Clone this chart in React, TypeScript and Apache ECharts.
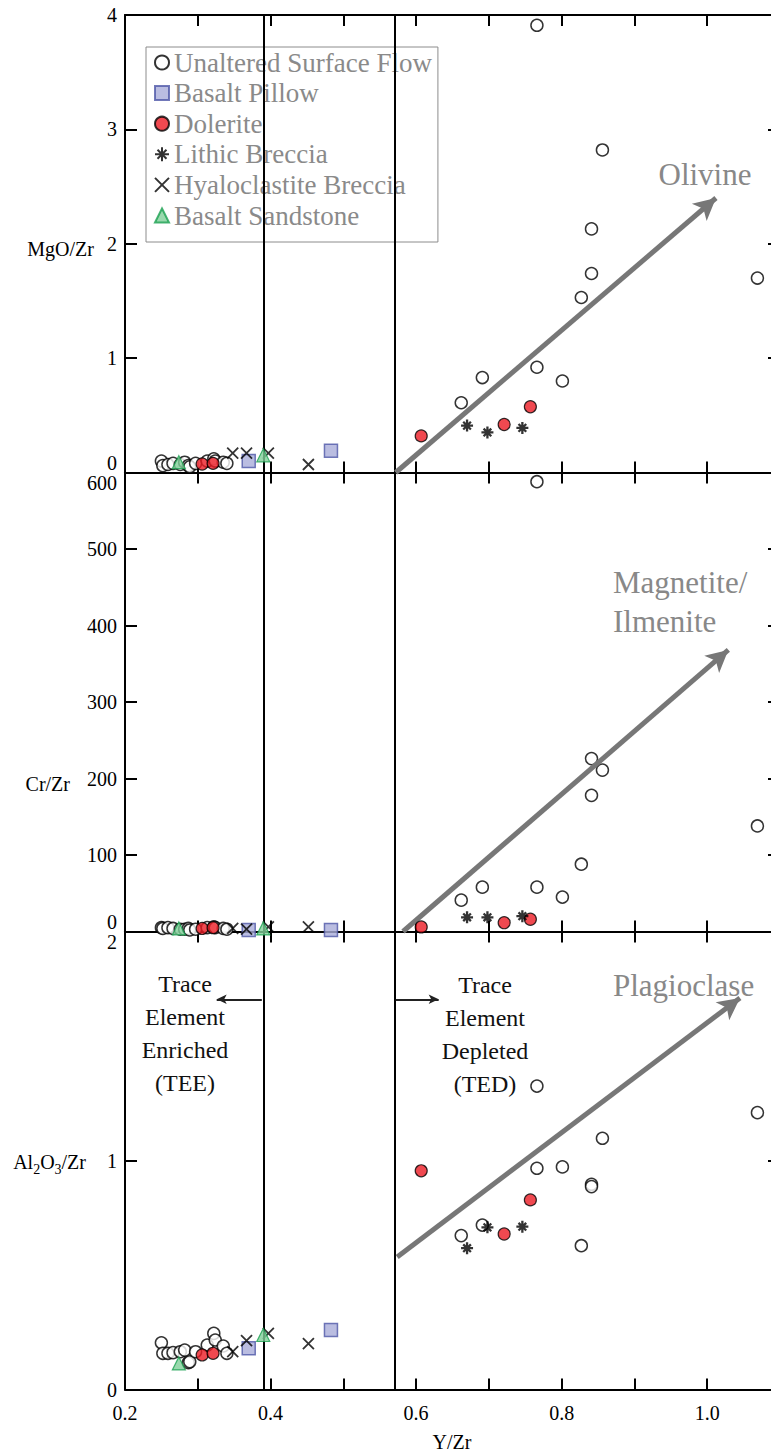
import React, { useEffect, useRef } from 'react';
import * as echarts from 'echarts';

const SERIF = '"Liberation Serif", "DejaVu Serif", serif';

// ---- axes ----
const X_MIN = 0.2;
const X_MAX = 1.1;
const X_INTERVAL = 0.1;
const Y_MAX = [4, 600, 2];
const Y_INTERVAL = [1, 100, 1];

// ---- boundaries (Y/Zr) ----
const TEE_BOUNDARY = 0.388;
const TED_BOUNDARY = 0.572;

// ---- Unaltered Surface Flow ----
const UNALTERED_X = [0.250, 0.252, 0.259, 0.266, 0.276, 0.282, 0.287, 0.289, 0.297, 0.313, 0.322, 0.324, 0.335, 0.340,
  0.766, 0.856, 0.841, 0.841, 0.827, 1.069, 0.766, 0.801, 0.691, 0.662];
const UNALTERED_MGO = [0.10, 0.06, 0.07, 0.08, 0.07, 0.09, 0.06, 0.05, 0.08, 0.10, 0.12, 0.10, 0.09, 0.08,
  3.91, 2.82, 2.13, 1.74, 1.53, 1.70, 0.92, 0.80, 0.83, 0.61];
const UNALTERED_CR = [5, 4, 5, 4, 3, 3, 4, 2, 3, 5, 6, 5, 4, 3,
  588, 211, 226, 178, 88, 138, 58, 45, 58, 41];
const UNALTERED_AL = [0.204, 0.158, 0.158, 0.161, 0.165, 0.172, 0.117, 0.121, 0.165, 0.194, 0.245, 0.216, 0.190, 0.158,
  1.325, 1.097, 0.896, 0.886, 0.628, 1.209, 0.966, 0.972, 0.718, 0.672];

// ---- Basalt Pillow ----
const PILLOW_X = [0.370, 0.483];
const PILLOW_MGO = [0.10, 0.19];
const PILLOW_CR = [2, 2];
const PILLOW_AL = [0.18, 0.26];

// ---- Dolerite ----
const DOLERITE_X = [0.306, 0.321, 0.607, 0.721, 0.757];
const DOLERITE_MGO = [0.074, 0.08, 0.32, 0.42, 0.575];
const DOLERITE_CR = [4, 5, 6, 11.5, 16];
const DOLERITE_AL = [0.151, 0.158, 0.955, 0.679, 0.828];

// ---- Lithic Breccia ----
const LITHIC_X = [0.670, 0.698, 0.746];
const LITHIC_MGO = [0.41, 0.35, 0.39];
const LITHIC_CR = [18.5, 18.5, 20];
const LITHIC_AL = [0.617, 0.708, 0.711];

// ---- Hyaloclastite Breccia ----
const HYALO_X = [0.348, 0.367, 0.397, 0.452];
const HYALO_MGO = [0.17, 0.17, 0.17, 0.07];
const HYALO_CR = [4, 3, 6, 6];
const HYALO_AL = [0.165, 0.213, 0.245, 0.20];

// ---- Basalt Sandstone ----
const SANDSTONE_X = [0.274, 0.390];
const SANDSTONE_MGO = [0.09, 0.15];
const SANDSTONE_CR = [4, 4];
const SANDSTONE_AL = [0.114, 0.238];

// ---- vector arrows [start, tip] ----
const OLIVINE_ARROW = [[0.572, 0], [1.012, 2.40]];
const MAGNETITE_ARROW = [[0.582, 0], [1.029, 368]];
const PLAGIOCLASE_ARROW = [[0.574, 0.579], [1.045, 1.71]];
const TEE_ARROW = [[0.388, 1.704], [0.326, 1.704]];
const TED_ARROW = [[0.572, 1.704], [0.631, 1.704]];

const NAMES = ['Unaltered Surface Flow', 'Basalt Pillow', 'Dolerite', 'Lithic Breccia', 'Hyaloclastite Breccia', 'Basalt Sandstone'];

const ASTERISK = 'path://M5 0L5 10M0 5L10 5M1.8 1.8L8.2 8.2M8.2 1.8L1.8 8.2';
const CROSS = 'path://M0 0L10 10M10 0L0 10';

const STYLES: any[] = [
  { symbol: 'circle', symbolSize: 12, itemStyle: { color: '#ffffff', borderColor: '#000', borderWidth: 1.5 } },
  { symbol: 'rect', symbolSize: 13, itemStyle: { color: '#a9acd9', borderColor: '#4f58a8', borderWidth: 1.5 } },
  { symbol: 'circle', symbolSize: 12, itemStyle: { color: '#ec1c24', borderColor: '#000', borderWidth: 1.2 } },
  { symbol: ASTERISK, symbolSize: 12, itemStyle: { color: '#000', borderColor: '#000', borderWidth: 2.3 } },
  { symbol: CROSS, symbolSize: 11, itemStyle: { color: '#000', borderColor: '#000', borderWidth: 1.8 } },
  { symbol: 'triangle', symbolSize: 13, itemStyle: { color: '#7fcf98', borderColor: '#1aa050', borderWidth: 1.2 } },
];

const GRIDS = [
  { left: 125, top: 15, width: 655, height: 457.5 },
  { left: 125, top: 472.5, width: 655, height: 459 },
  { left: 125, top: 931.5, width: 655, height: 458 },
];

const arrowLine = (pair: number[][], color: string, width: number, size: number[]) => [
  { coord: pair[0], symbol: 'none', lineStyle: { color, width, type: 'solid' } },
  { coord: pair[1], symbol: 'arrow', symbolSize: size, itemStyle: { color } },
];

export default function App() {
  const ref = useRef<HTMLDivElement>(null);
  useEffect(() => {
    if (!ref.current) return;
    const chart = echarts.init(ref.current, null, { renderer: 'svg' });

    const xAxes: any[] = [];
    const yAxes: any[] = [];
    GRIDS.forEach((_, gi) => {
      ['bottom', 'top'].forEach((pos) => {
        xAxes.push({
          type: 'value', gridIndex: gi, position: pos, min: X_MIN, max: X_MAX, interval: X_INTERVAL,
          axisLine: { show: true, onZero: false, lineStyle: { color: '#000', width: 2 } },
          axisTick: { show: true, inside: true, length: 11, lineStyle: { color: '#000', width: 2 } },
          splitLine: { show: false },
          axisLabel: gi === 2 && pos === 'bottom' ? {
            show: true, margin: 13, fontFamily: SERIF, fontSize: 20, color: '#000',
            formatter: (v: number) => { const t = Math.round(v * 10); return t % 2 === 0 && t <= 10 ? (t / 10).toFixed(1) : ''; },
          } : { show: false },
        });
      });
      ['left', 'right'].forEach((pos) => {
        yAxes.push({
          type: 'value', gridIndex: gi, position: pos, min: 0, max: Y_MAX[gi], interval: Y_INTERVAL[gi],
          axisLine: { show: true, onZero: false, lineStyle: { color: '#000', width: 2 } },
          axisTick: { show: true, inside: true, length: 12, lineStyle: { color: '#000', width: 2 } },
          splitLine: { show: false },
          axisLabel: pos === 'left' ? {
            show: true, margin: 8, fontFamily: SERIF, fontSize: 20, color: '#000',
            verticalAlignMinLabel: gi === 2 ? 'middle' : 'bottom',
            verticalAlignMaxLabel: gi === 0 ? 'middle' : 'top',
          } : { show: false },
        });
      });
    });

    const panelData = [
      [[UNALTERED_X, UNALTERED_MGO], [PILLOW_X, PILLOW_MGO], [DOLERITE_X, DOLERITE_MGO], [LITHIC_X, LITHIC_MGO], [HYALO_X, HYALO_MGO], [SANDSTONE_X, SANDSTONE_MGO]],
      [[UNALTERED_X, UNALTERED_CR], [PILLOW_X, PILLOW_CR], [DOLERITE_X, DOLERITE_CR], [LITHIC_X, LITHIC_CR], [HYALO_X, HYALO_CR], [SANDSTONE_X, SANDSTONE_CR]],
      [[UNALTERED_X, UNALTERED_AL], [PILLOW_X, PILLOW_AL], [DOLERITE_X, DOLERITE_AL], [LITHIC_X, LITHIC_AL], [HYALO_X, HYALO_AL], [SANDSTONE_X, SANDSTONE_AL]],
    ];
    const mineralArrows = [OLIVINE_ARROW, MAGNETITE_ARROW, PLAGIOCLASE_ARROW];

    const series: any[] = [];
    panelData.forEach((panel, gi) => {
      panel.forEach(([xs, ys], si) => {
        const s: any = {
          type: 'scatter', name: NAMES[si], xAxisIndex: gi * 2, yAxisIndex: gi * 2,
          data: xs.map((x: number, i: number) => [x, ys[i]]),
          ...STYLES[si],
          z: 3 + si,
          emphasis: { disabled: true },
        };
        if (si === 0) {
          const lines: any[] = [
            { xAxis: TEE_BOUNDARY, lineStyle: { color: '#000', width: 2, type: 'solid' } },
            { xAxis: TED_BOUNDARY, lineStyle: { color: '#000', width: 2, type: 'solid' } },
            arrowLine(mineralArrows[gi], '#777777', 5, [17, 22]),
          ];
          if (gi === 2) {
            lines.push(arrowLine(TEE_ARROW, '#222222', 1.8, [7, 10]));
            lines.push(arrowLine(TED_ARROW, '#222222', 1.8, [7, 10]));
          }
          s.markLine = {
            silent: true, symbol: ['none', 'none'], label: { show: false },
            emphasis: { disabled: true },
            lineStyle: { color: '#000', width: 2, type: 'solid' },
            data: lines,
          };
        }
        series.push(s);
      });
    });

    const txt = (text: string, x: number, y: number, fontSize: number, fill: string, align: string, extra: any = {}) => ({
      type: 'text', x, y, silent: true, z: 10,
      style: { text, fontFamily: SERIF, fontSize, fill, align, verticalAlign: 'middle', ...extra },
    });

    chart.setOption({
      animation: false,
      backgroundColor: '#ffffff',
      grid: GRIDS.map((g) => ({ ...g, containLabel: false, outerBoundsMode: 'none' })),
      xAxis: xAxes,
      yAxis: yAxes,
      legend: {
        show: true, orient: 'vertical', left: 146, top: 47,
        itemWidth: 14, itemHeight: 14, itemGap: 3.6,
        padding: [2, 6, 13, 8],
        backgroundColor: '#ffffff', borderColor: '#8c8c8c', borderWidth: 1,
        selectedMode: false,
        textStyle: { fontFamily: SERIF, fontSize: 27, color: '#8a8a8a', lineHeight: 27 },
        data: NAMES,
      },
      graphic: [
        txt('MgO/Zr', 94, 249, 20, '#000', 'right'),
        txt('Cr/Zr', 70, 784, 20, '#000', 'right'),
        txt('Al{s|2}O{s|3}/Zr', 86, 1162, 20, '#000', 'right', {
          rich: { s: { fontSize: 14, fontFamily: SERIF, fill: '#000', padding: [14, 0, 0, 0] } },
        }),
        txt('Y/Zr', 452, 1442, 20, '#000', 'center'),
        txt('Olivine', 705, 174, 31, '#888888', 'center'),
        txt('Magnetite/\nIlmenite', 613, 602, 31, '#888888', 'left', { lineHeight: 39 }),
        txt('Plagioclase', 613, 985, 31, '#888888', 'left'),
        txt('Trace\nElement\nEnriched\n(TEE)', 185, 1033, 24, '#111', 'center', { lineHeight: 33 }),
        txt('Trace\nElement\nDepleted\n(TED)', 485, 1034, 24, '#111', 'center', { lineHeight: 33 }),
      ],
      series,
    });
    return () => chart.dispose();
  }, []);
  return <div ref={ref} style={{ position: 'fixed', left: 0, top: 0, width: 771, height: 1453, background: '#fff' }} />;
}
